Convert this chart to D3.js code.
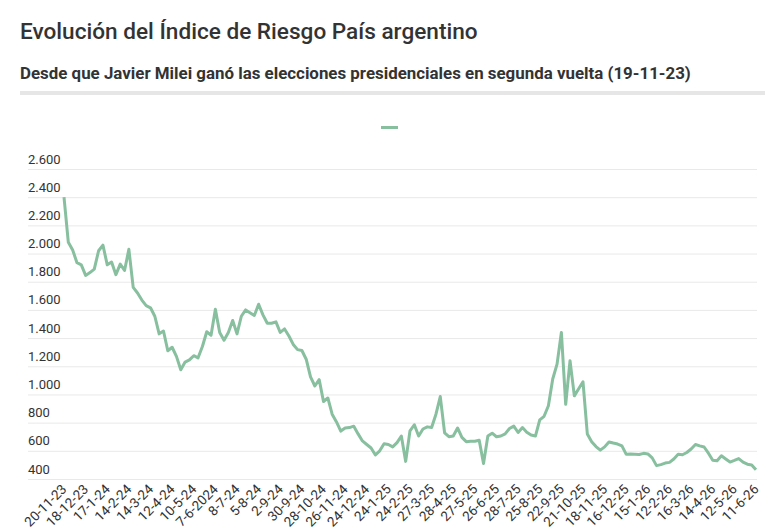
<!DOCTYPE html>
<html>
<head>
<meta charset="utf-8">
<script src="https://cdn.jsdelivr.net/npm/d3@7"></script>
<style>
  body { margin: 0; background: #fff; font-family: Roboto, "Noto Sans", sans-serif; }
  svg { display: block; }
</style>
</head>
<body>
<svg width="767" height="532"></svg>
<script>
// etiquetas del eje x (una cada 20 ruedas)
let fechas = ['20-11-23', '18-12-23', '17-1-24', '14-2-24', '14-3-24', '12-4-24', '10-5-24', '7-6-2024',
  '8-7-24', '5-8-24', '2-9-24', '30-9-24', '28-10-24', '26-11-24', '24-12-24', '24-1-25', '24-2-25',
  '27-3-25', '28-4-25', '27-5-25', '26-6-25', '28-7-25', '25-8-25', '22-9-25', '21-10-25', '18-11-25',
  '16-12-25', '15-1-26', '12-2-26', '16-3-26', '14-4-26', '12-5-26', '11-6-26']

// riesgo pais, un valor cada 4 ruedas
let riesgo = [
  2400, 2080, 2025, 1935, 1920, 1845, 1865, 1890, 2020, 2060,
  1920, 1940, 1850, 1925, 1880, 2030, 1760, 1720, 1670, 1630,
  1615, 1555, 1430, 1450, 1310, 1335, 1270, 1175, 1230, 1245,
  1275, 1260, 1340, 1445, 1420, 1605, 1440, 1385, 1440, 1525,
  1430, 1555, 1600, 1580, 1560, 1640, 1565, 1505, 1505, 1515,
  1440, 1465, 1415, 1355, 1318, 1312, 1250, 1125, 1060, 1105,
  950, 975, 860, 805, 740, 762, 765, 775, 720, 670,
  645, 620, 570, 600, 650, 645, 628, 658, 705, 525,
  742, 785, 705, 755, 770, 765, 860, 985, 728, 700,
  705, 762, 695, 665, 668, 668, 675, 510, 705, 725,
  700, 705, 720, 758, 775, 730, 765, 732, 712, 705,
  820, 845, 920, 1110, 1215, 1440, 930, 1240, 990, 1040,
  1090, 720, 665, 630, 605, 628, 663, 655, 648, 635,
  575, 577, 576, 574, 582, 578, 550, 495, 502, 513,
  518, 542, 575, 572, 588, 613, 645, 635, 627, 583,
  533, 530, 565, 542, 520, 532, 545, 520, 505, 500,
  465]

let yTicks = [400, 600, 800, 1000, 1200, 1400, 1600, 1800, 2000, 2200, 2400, 2600]

let paso = 5 // puntos entre etiquetas

let svg = d3.select("svg")
let verde = "#87bf9f"

let loc = d3.formatLocale({ decimal: ",", thousands: ".", grouping: [3], currency: ["$", ""] })
let fmt = loc.format(",")

svg.append("text")
  .attr("x", 20)
  .attr("y", 39)
  .attr("font-size", "22.6px")
  .attr("font-weight", 500)
  .attr("fill", "#333")
  .text("Evolución del Índice de Riesgo País argentino")

svg.append("text")
  .attr("x", 20)
  .attr("y", 79)
  .attr("font-size", "16.9px")
  .attr("font-weight", 700)
  .attr("fill", "#333")
  .text("Desde que Javier Milei ganó las elecciones presidenciales en segunda vuelta (19-11-23)")

svg.append("rect")
  .attr("x", 20)
  .attr("y", 91)
  .attr("width", 745)
  .attr("height", 4)
  .attr("fill", "#e6e6e6")

// leyenda sin texto
svg.append("rect")
  .attr("x", 381)
  .attr("y", 126)
  .attr("width", 17)
  .attr("height", 3)
  .attr("fill", verde)

let x = d3.scaleLinear().domain([0, riesgo.length - 1]).range([64, 756])
let y = d3.scaleLinear().domain([400, 2600]).range([479, 169])

let gy = svg.append("g")
  .attr("transform", "translate(28,0)")
  .call(d3.axisRight(y)
    .tickValues(yTicks)
    .tickSize(729)
    .tickFormat(fmt))

gy.select(".domain").remove()
gy.selectAll(".tick line").attr("stroke", "#e9e9e9")
gy.selectAll(".tick text")
  .attr("x", 0)
  .attr("dy", -6)
  .attr("text-anchor", "start")
  .attr("font-size", "13px")
  .attr("font-family", "Roboto")
  .attr("fill", "#333")

let gx = svg.append("g")
  .attr("transform", "translate(0,480)")
  .call(d3.axisBottom(x)
    .tickValues(fechas.map((d, i) => i * paso))
    .tickSize(0)
    .tickFormat((d) => fechas[d / paso]))

gx.select(".domain").remove()
gx.selectAll(".tick text")
  .attr("font-size", "13.5px")
  .attr("font-family", "Roboto")
  .attr("fill", "#333")
  .attr("text-anchor", "end")
  .attr("dy", 0)
  .attr("y", 0)
  .attr("transform", "translate(3,10) rotate(-45)")

svg.append("path")
  .datum(riesgo)
  .attr("fill", "none")
  .attr("stroke", verde)
  .attr("stroke-width", 3)
  .attr("stroke-linejoin", "round")
  .attr("d", d3.line()
    .x((d, i) => x(i))
    .y((d) => y(d)))
</script>
</body>
</html>
